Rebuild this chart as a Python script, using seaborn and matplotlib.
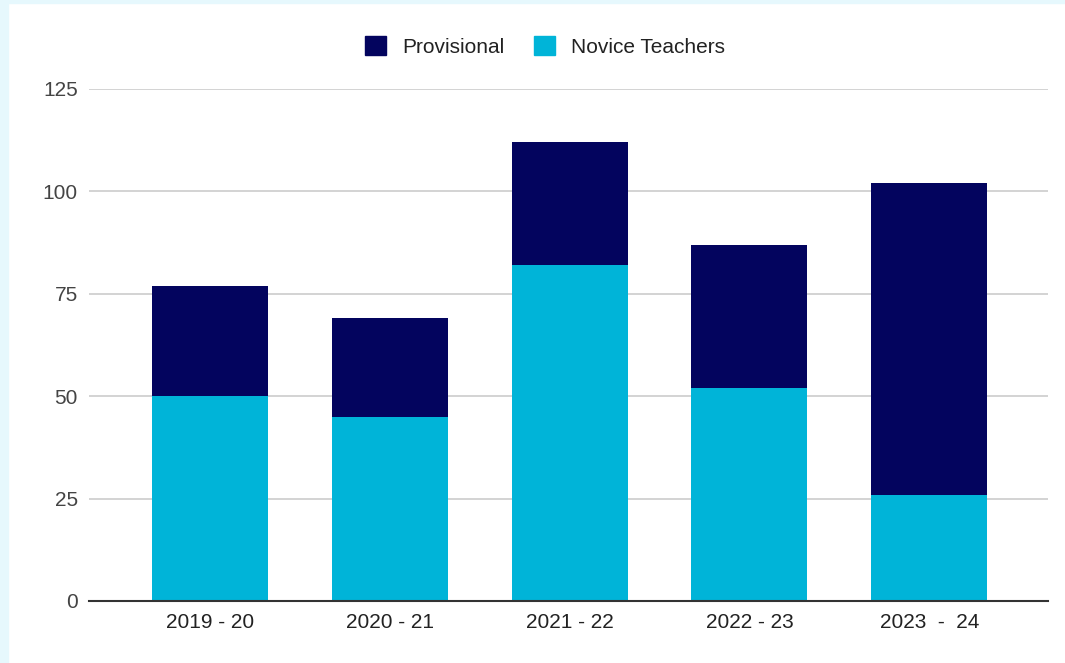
import matplotlib
matplotlib.use("Agg")
import matplotlib.pyplot as plt
from matplotlib.patches import Patch, Rectangle
import seaborn as sns
import pandas as pd
import numpy as np

years = ["2019 - 20", "2020 - 21", "2021 - 22", "2022 - 23", "2023  -  24"]
novice = [50, 45, 82, 52, 26]
provisional = [27, 24, 30, 35, 76]
yticks = [0, 25, 50, 75, 100, 125]

NAVY = "#03045e"
CYAN = "#00b4d8"

sns.set_theme(style="white")
plt.rcParams["font.family"] = ["Liberation Sans", "DejaVu Sans"]

totals = [n + p for n, p in zip(novice, provisional)]
df = pd.DataFrame({"year": years, "novice": novice, "total": totals})

fig = plt.figure(figsize=(10.65, 6.63), dpi=100)
ax = fig.add_axes([89 / 1065, 1 - 601 / 663, (1048 - 89) / 1065, (601 - 89) / 663])

# light border strips
fig.patches.append(Rectangle((0, 0), 8 / 1065, 1, transform=fig.transFigure,
                             color="#e6f8fd", zorder=0))
fig.patches.append(Rectangle((0, 1 - 3 / 663), 1, 3 / 663, transform=fig.transFigure,
                             color="#e6f8fd", zorder=0))

sns.barplot(data=df, x="year", y="total", color=NAVY, width=0.645,
            saturation=1, ax=ax, zorder=3, linewidth=0)
sns.barplot(data=df, x="year", y="novice", color=CYAN, width=0.645,
            saturation=1, ax=ax, zorder=4, linewidth=0)

ax.set_xlim(-0.673, 4.66)
ax.set_ylim(0, 125)
ax.set_yticks(yticks)
ax.set_yticklabels([str(t) for t in yticks])
ax.yaxis.grid(True, color="#cccccc", linewidth=1.2, zorder=0)
ax.set_axisbelow(True)
for s in ["left", "right", "top"]:
    ax.spines[s].set_visible(False)
ax.spines["bottom"].set_color("#333333")
ax.spines["bottom"].set_linewidth(1.5)
ax.spines["bottom"].set_zorder(5)
ax.set_xlabel("")
ax.set_ylabel("")
ax.tick_params(axis="y", length=0, pad=8, labelsize=15, labelcolor="#444444")
ax.tick_params(axis="x", length=0, pad=9, labelsize=15, labelcolor="#222222")

handles = [Patch(facecolor=NAVY, edgecolor=NAVY, label="Provisional"),
           Patch(facecolor=CYAN, edgecolor=CYAN, label="Novice Teachers")]
fig.legend(handles=handles, loc="center", bbox_to_anchor=(545 / 1065, 1 - 46.5 / 663),
           ncol=2, frameon=False, fontsize=15, handlelength=1.0, handleheight=1.0,
           handletextpad=0.75, columnspacing=1.45, labelcolor="#222222")

fig.savefig("out.png", dpi=100)
